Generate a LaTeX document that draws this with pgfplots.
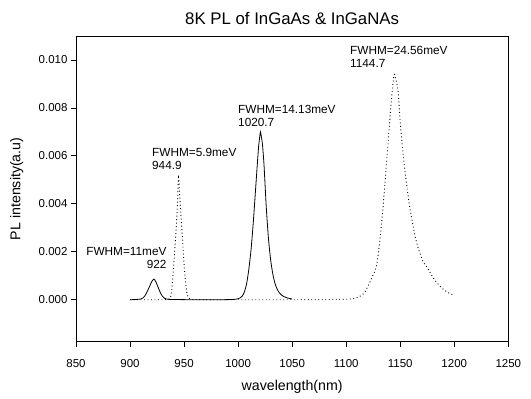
\documentclass[border=0pt]{standalone}
\usepackage{pgfplots}
\pgfplotsset{compat=1.18}
\usepackage{fontspec}
\setmainfont{Liberation Sans}
\begin{document}
\begin{tikzpicture}
\begin{axis}[
  name=ax,
  scale only axis,
  width=432.3bp, height=305.7bp,
  xmin=850, xmax=1250, ymin=-0.00175, ymax=0.011,
  xtick={850,900,...,1250},
  ytick={0,0.002,0.004,0.006,0.008,0.010},
  scaled y ticks=false,
  /pgf/number format/assume math mode=true,
  xticklabel style={/pgf/number format/set thousands separator={}, /pgf/number format/fixed, yshift=-9bp},
  yticklabel style={/pgf/number format/fixed, /pgf/number format/fixed zerofill, /pgf/number format/precision=3},
  tick label style={font=\fontsize{11.5bp}{13bp}\selectfont},
  label style={font=\fontsize{14.2bp}{16bp}\selectfont},
  xlabel style={at={(axis description cs:0.5,-0.147)}, anchor=center},
  ylabel style={at={(axis description cs:-0.137,0.5)}, anchor=center},
  tick align=outside,
  xtick pos=bottom, ytick pos=left,
  major tick length=5bp,
  axis line style={line width=0.8bp},
  tick style={line width=0.8bp, black},
  xlabel={wavelength(nm)},
  ylabel={PL intensity(a.u)},
  title={8K PL of InGaAs \& InGaNAs},
  title style={font=\fontsize{16.8bp}{18bp}\selectfont, at={(axis description cs:0.5,1.038)}, anchor=center},
]
\addplot[black, line width=0.8bp, smooth, tension=0.4] coordinates {
(900,0) (905,0.00001) (910,0.00003) (912,0.00008) (914,0.00018) (916,0.00035)
(918,0.00055) (920,0.00075) (921,0.00082) (922,0.00086) (923,0.00082) (924,0.00074)
(926,0.00052) (928,0.00030) (930,0.00014) (932,0.00006) (935,0.00002) (940,0.00001)
(960,0) (980,0) (995,0.00001) (1000,0.00004) (1002,0.00008) (1004,0.00016)
(1006,0.00035) (1008,0.0007) (1010,0.0013) (1012,0.0021) (1014,0.0032) (1016,0.0045)
(1018,0.0058) (1019,0.0064) (1020,0.0068) (1020.7,0.0070) (1021.5,0.0068) (1022.5,0.0065)
(1024,0.0056) (1026,0.0039) (1028,0.0026) (1030,0.0017) (1032,0.0011) (1034,0.0007)
(1036,0.00045) (1038,0.0003) (1040,0.0002) (1042,0.00014) (1044,0.0001) (1046,0.00007)
(1048,0.00005) (1050,0.00003)
};
\addplot[black, line width=0.9bp, dash pattern=on 0.9bp off 2.6bp, smooth, tension=0.4] coordinates {
(900,0) (910,0) (920,0) (930,0) (935,0.00001) (937,0.00005) (938,0.0002) (939,0.0006)
(940,0.0012) (941,0.0018) (942,0.0025) (943,0.0032) (944,0.0041) (944.9,0.0051)
(946,0.0043) (947,0.0036) (948,0.0029) (949,0.0022) (950,0.0015) (951,0.0009)
(952,0.0005) (953,0.0002) (954,0.00008) (956,0.00002) (960,0.00001) (980,0)
(1000,0) (1050,0) (1080,0.00001) (1100,0.00002) (1105,0.00004) (1110,0.00009)
(1114,0.00018) (1117,0.0003) (1120,0.00055) (1124,0.00095) (1128,0.0014) (1131,0.0024)
(1134,0.0038) (1137,0.0055) (1140,0.0073) (1142,0.0084) (1144,0.0093) (1144.7,0.0094)
(1146,0.0092) (1148,0.0087) (1150,0.0074) (1152,0.0064) (1154,0.0055) (1156,0.0048)
(1158,0.0041) (1161,0.0033) (1164,0.0026) (1167,0.0021) (1171,0.0016) (1175,0.00135)
(1180,0.00095) (1185,0.00065) (1190,0.00043) (1195,0.00028) (1200,0.00018)
};
\node[anchor=base east, align=right, inner sep=0pt, font=\fontsize{11.8bp}{13bp}\selectfont]
  at (axis cs:933.9,0.0013) {FWHM=11meV\\922};
\node[anchor=base west, align=left, inner sep=0pt, font=\fontsize{11.8bp}{13bp}\selectfont]
  at (axis cs:920.3,0.00543) {FWHM=5.9meV\\944.9};
\node[anchor=base west, align=left, inner sep=0pt, font=\fontsize{11.8bp}{13bp}\selectfont]
  at (axis cs:999.9,0.00723) {FWHM=14.13meV\\1020.7};
\node[anchor=base west, align=left, inner sep=0pt, font=\fontsize{11.8bp}{13bp}\selectfont]
  at (axis cs:1103.5,0.00970) {FWHM=24.56meV\\1144.7};
\end{axis}
\path ([shift={(-76bp,-57.3bp)}]ax.south west) rectangle ([shift={(22.7bp,36bp)}]ax.north east);
\end{tikzpicture}
\end{document}
